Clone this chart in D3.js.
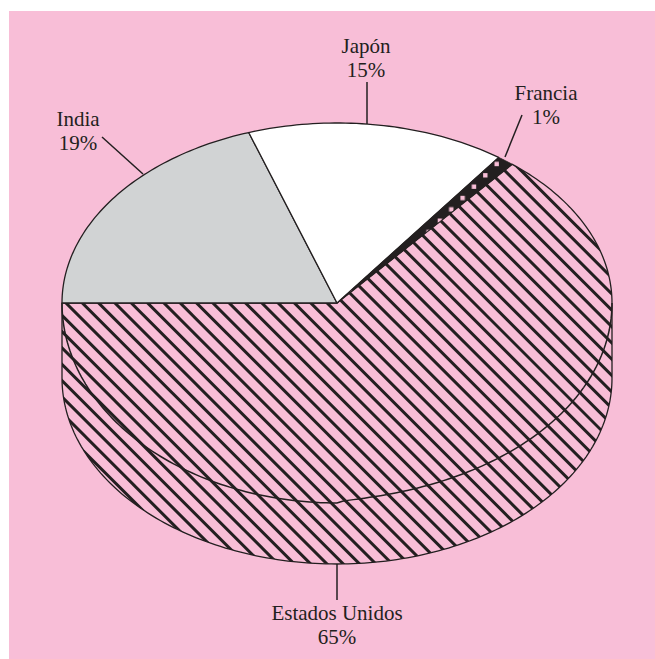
<!DOCTYPE html>
<html><head><meta charset="utf-8">
<script src="https://cdn.jsdelivr.net/npm/d3@7"></script>
<style>html,body{margin:0;padding:0;background:#fff}svg{display:block}text{font-family:"Liberation Serif",serif;font-size:21px;fill:#231f20;text-anchor:middle}</style>
</head><body><svg id="c" width="655" height="659"></svg>
<script>
// Values: printed labels and the wedge shares
const categories=["India","Japón","Francia","Estados Unidos"];
const percentLabels=["19%","15%","1%","65%"];
const wedgeShares=[19.8,15.2,1,64];

// Layout (style and placement, separate from the data)
const W=655,H=659,cx=337,cy=303,rx=275,ryTop=180,ryFront=200,sideBottomCy=378,ryOuter=186;
const ink="#231f20",pink="#f8bed7",grey="#d1d3d4";
const labelPos=[[78,125.5],[366,53],[546,100],[337,620]];
const leaders=[[[102,137],[143,174]],[[367,82],[367,124]],[[522,115],[505,157]],[[337,564],[337,600]]];
const hatchStep=16.32,hatchOffset=-237,hatchWidth=3;
const rimSag=7;

const svg=d3.select("#c");
const defs=svg.append("defs");
const dots=defs.append("pattern").attr("id","dots").attr("patternUnits","userSpaceOnUse")
  .attr("width",22.7).attr("height",22.7).attr("patternTransform","translate(491,158.3)");
dots.append("rect").attr("width",22.7).attr("height",22.7).attr("fill",ink);
[5.675,17.025].forEach(p=>dots.append("rect").attr("x",p-2.2).attr("y",p-2.2).attr("width",4.4).attr("height",4.4).attr("fill",pink));

svg.append("rect").attr("x",9).attr("y",11).attr("width",W-9).attr("height",H-11).attr("fill",pink);

const pie=d3.pie().sort(null).value(d=>d).startAngle(-Math.PI/2).endAngle(Math.PI*1.5);
const arcs=pie(wedgeShares);
const sx=d3.scaleLinear().domain([-1,1]).range([cx-rx,cx+rx]);
const yTop=d3.scaleLinear().domain([-1,0]).range([cy-ryTop,cy]);
const yFront=d3.scaleLinear().domain([0,1]).range([cy,cy+ryFront]);
const yOuter=d3.scaleLinear().domain([0,1]).range([sideBottomCy,sideBottomCy+ryOuter]);
const py=v=>v<0?yTop(v):yFront(v);
const pt=a=>[sx(Math.sin(a)),py(-Math.cos(a))];
const sample=(a0,a1,f)=>{const n=Math.max(2,Math.ceil(Math.abs(a1-a0)/0.02));return d3.range(n+1).map(i=>f(a0+(a1-a0)*i/n));};
const line=d3.line();
const center=[sx(0),py(0)];

// United States body: top wedge plus cylinder wall
const us=arcs[3];
const upper=sample(us.startAngle,Math.PI/2,pt);
const outer=sample(Math.PI/2,Math.PI*1.5,a=>[sx(Math.sin(a)),yOuter(Math.max(0,-Math.cos(a)))]);
const bodyD=line([center,...upper,...outer,[sx(-1),py(0)]])+"Z";
defs.append("clipPath").attr("id","body").append("path").attr("d",bodyD);
const hatchGroup=svg.append("g").attr("clip-path","url(#body)");
hatchGroup.selectAll("line").data(d3.range(-20,60)).join("line")
  .attr("x1",k=>hatchOffset+hatchStep*k).attr("y1",0)
  .attr("x2",k=>hatchOffset+hatchStep*k+H).attr("y2",H)
  .attr("stroke",ink).attr("stroke-width",hatchWidth);
svg.append("path").attr("d",bodyD).attr("fill","none").attr("stroke",ink).attr("stroke-width",1.3).attr("stroke-linejoin","round");

// Remaining wedges
const fills=[grey,"#fff","url(#dots)"];
arcs.slice(0,3).forEach((d,i)=>{
  svg.append("path").attr("d",line([center,...sample(d.startAngle,d.endAngle,pt)])+"Z")
    .attr("fill",fills[i]).attr("stroke",ink).attr("stroke-width",i==2?0.8:1.3).attr("stroke-linejoin","round");
});
// Front rim of the top face (the drawn rim sits slightly higher on its right half)
const rimPt=a=>{const [x,y]=pt(a),t=Math.max(0,Math.sin(a));return [x,y-rimSag*Math.sqrt(Math.sin(Math.PI*t))];};
svg.append("path").attr("d",line(sample(Math.PI/2,Math.PI*1.5,rimPt))).attr("fill","none").attr("stroke",ink).attr("stroke-width",1.5);

// Leaders and labels
leaders.forEach(l=>svg.append("path").attr("d",line(l)).attr("stroke",ink).attr("stroke-width",1.5).attr("fill","none"));
categories.forEach((c,i)=>{
  const [x,y]=labelPos[i];
  svg.append("text").attr("x",x).attr("y",y).text(c);
  svg.append("text").attr("x",x).attr("y",y+24).text(percentLabels[i]);
});
</script></body></html>
